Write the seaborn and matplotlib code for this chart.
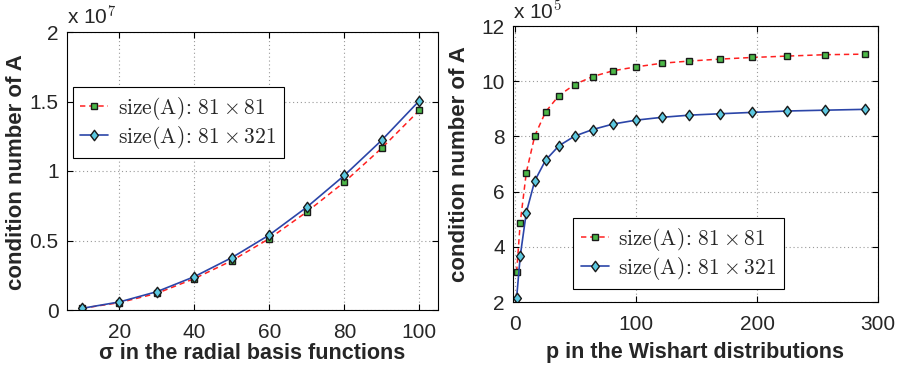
import numpy as np
import pandas as pd
import matplotlib
matplotlib.use("Agg")
import matplotlib.pyplot as plt
from matplotlib.ticker import FuncFormatter
from matplotlib.path import Path
import seaborn as sns

# ---- data ----
sigma = [10, 20, 30, 40, 50, 60, 70, 80, 90, 100]
cond_sigma_81x81_e7 = [0.012, 0.053, 0.12, 0.226, 0.355, 0.514, 0.706, 0.92, 1.165, 1.436]
cond_sigma_81x321_e7 = [0.012, 0.058, 0.132, 0.24, 0.377, 0.54, 0.74, 0.968, 1.222, 1.505]

p_vals = [1, 4, 9, 16, 25, 36, 49, 64, 81, 100, 121, 144, 169, 196, 225, 256, 289]
cond_p_81x81_e5 = [3.09, 4.88, 6.69, 8.02, 8.89, 9.48, 9.88, 10.17, 10.38, 10.52,
                   10.65, 10.73, 10.80, 10.86, 10.91, 10.96, 10.98]
cond_p_81x321_e5 = [2.15, 3.67, 5.24, 6.39, 7.14, 7.66, 8.01, 8.25, 8.45, 8.59,
                    8.69, 8.77, 8.82, 8.87, 8.92, 8.95, 8.98]

labels = [r"$\mathrm{size(A)}\!:\,81\times81$", r"$\mathrm{size(A)}\!:\,81\times321$"]
left_yticks = [0, 0.5, 1, 1.5, 2]
right_yticks = [2, 4, 6, 8, 10, 12]
left_xticks = [20, 40, 60, 80, 100]
right_xticks = [0, 100, 200, 300]

sns.set_style("ticks")
plt.rcParams["font.family"] = ["Liberation Sans", "DejaVu Sans"]
plt.rcParams["mathtext.fontset"] = "cm"

fig = plt.figure(figsize=(9.02, 3.65), dpi=100)
W, H = 902, 365
axL = fig.add_axes([67 / W, 1 - 310 / H, (438 - 67) / W, (310 - 32) / H])
axR = fig.add_axes([513 / W, 1 - 302 / H, (878 - 513) / W, (302 - 26) / H])

red = "#ff2020"
blue = "#2b45a8"
green = "#4cb848"
cyan = "#5cc8e0"
diamond = Path([(0, -1), (0.75, 0), (0, 1), (-0.75, 0), (0, -1)],
               [Path.MOVETO, Path.LINETO, Path.LINETO, Path.LINETO, Path.CLOSEPOLY])

def draw(ax, x, y1, y2):
    df1 = pd.DataFrame({"x": x, "y": y1})
    df2 = pd.DataFrame({"x": x, "y": y2})
    sns.lineplot(data=df1, x="x", y="y", ax=ax, color=red, linestyle=(0, (3.5, 2.5)),
                 linewidth=1.1, marker="s", markersize=5, markerfacecolor=green,
                 markeredgecolor="#1a1a1a", markeredgewidth=1.0, label=labels[0])
    sns.lineplot(data=df2, x="x", y="y", ax=ax, color=blue, linestyle="-",
                 linewidth=1.2, marker=diamond, markersize=7.5, markerfacecolor=cyan,
                 markeredgecolor="#1a1a1a", markeredgewidth=1.0, label=labels[1])

fs = 15
tick_col = "#262626"

draw(axL, sigma, cond_sigma_81x81_e7, cond_sigma_81x321_e7)
draw(axR, p_vals, cond_p_81x81_e5, cond_p_81x321_e5)

for ax in (axL, axR):
    ax.grid(True, linestyle=(0, (1, 2.5)), color="#999999", linewidth=0.8)
    for s in ax.spines.values():
        s.set_visible(True)
        s.set_color("black")
        s.set_linewidth(0.8)
    ax.tick_params(direction="in", top=True, right=True, labelsize=fs, length=4, width=0.8,
                   colors="black", labelcolor=tick_col, pad=6)
    ax.tick_params(axis="x", pad=9)
    ax.set_ylabel("condition number of A", fontsize=16, fontweight="bold", color=tick_col)

axL.yaxis.set_label_coords((27 - 67) / 371, 1 - (172 - 32) / 278)
axR.yaxis.set_label_coords((470 - 513) / 365, 1 - (164 - 26) / 276)

axL.set_xlim(6, 105)
axL.set_ylim(0, 2)
axL.set_xticks(left_xticks)
axL.set_yticks(left_yticks)
axL.yaxis.set_major_formatter(FuncFormatter(lambda v, p: "%g" % v))
axL.set_xlabel("σ in the radial basis functions", fontsize=15.5, fontweight="bold",
               color=tick_col, labelpad=1)
axL.text(0.0, 1.01, r"x 10$^{7}$", transform=axL.transAxes, fontsize=fs,
         ha="left", va="bottom", color=tick_col)

axR.set_xlim(-2, 300)
axR.set_ylim(2, 12)
axR.set_xticks(right_xticks)
axR.set_yticks(right_yticks)
axR.set_xlabel("p in the Wishart distributions", fontsize=15.5, fontweight="bold",
               color=tick_col, labelpad=6)
axR.text(0.0, 1.01, r"x 10$^{5}$", transform=axR.transAxes, fontsize=fs,
         ha="left", va="bottom", color=tick_col)

legkw = dict(fontsize=15.5, frameon=True, fancybox=False, edgecolor="black",
             framealpha=1, handlelength=1.3, borderpad=0.35, labelspacing=0.1,
             handletextpad=0.45, borderaxespad=0)
legL = axL.legend(loc="upper left", bbox_to_anchor=((72.7 - 67) / 371, 1 - (87 - 32) / 278), **legkw)
legR = axR.legend(loc="upper left", bbox_to_anchor=((573 - 513) / 365, 1 - (218 - 26) / 276), **legkw)
for leg in (legL, legR):
    leg.get_frame().set_linewidth(0.8)

fig.savefig("out.png", dpi=100)
